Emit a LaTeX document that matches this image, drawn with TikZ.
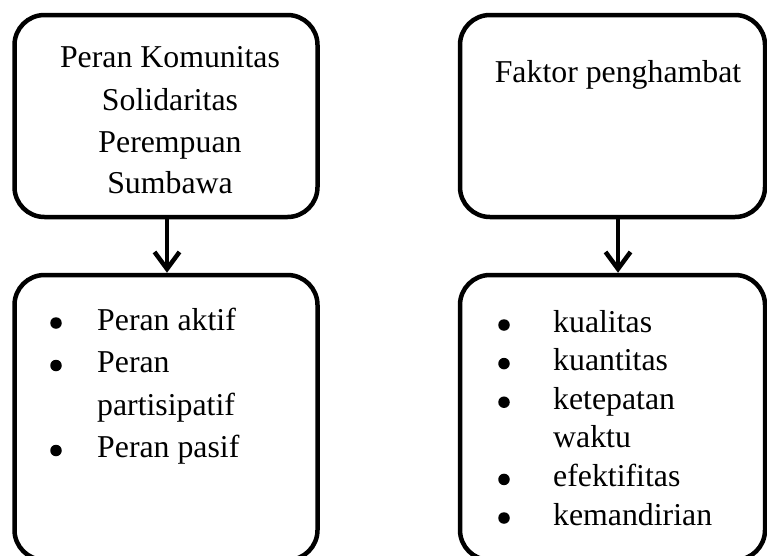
\documentclass[tikz,border=0pt]{standalone}
\usepackage{fontspec}
\setmainfont{Liberation Serif}
\usetikzlibrary{arrows.meta}
\begin{document}
\begin{tikzpicture}[x=1pt,y=-1pt,
  box/.style={draw, line width=4.5pt, rounded corners=30pt, inner sep=0pt},
  txt/.style={inner sep=0pt, anchor=base, font=\fontsize{31.8}{42}\selectfont},
  ltxt/.style={txt, anchor=base west},
  dot/.style={circle, fill, inner sep=0pt, minimum size=11.5pt},
  conn/.style={line width=4.5pt, -{Straight Barb[length=17pt,width=25pt,line width=4.5pt]}}]
\useasboundingbox (0,0) rectangle (767,555);
\clip (0,0) rectangle (767,555);
% boxes
\node[box, minimum width=303pt, minimum height=202pt] (ltop) at (166,116) {};
\node[box, minimum width=303pt, minimum height=285pt] (lbot) at (166,417.5) {};
\node[box, minimum width=305pt, minimum height=202pt] (rtop) at (612.5,116) {};
\node[box, minimum width=305pt, minimum height=285pt] (rbot) at (612.5,417.5) {};
% connectors
\draw[conn] ([xshift=1pt]ltop.south) -- ([xshift=1pt]lbot.north);
\draw[conn] ([xshift=5.5pt]rtop.south) -- ([xshift=5.5pt]rbot.north);
% left top text
\node[txt] (lt1) at (170,67) {Peran Komunitas};
\node[txt] (lt2) at (170,110) {Solidaritas};
\node[txt] (lt3) at (170,152) {Perempuan};
\node[txt] (lt4) at (170,193) {Sumbawa};
% right top text
\node[txt] (rt1) at (618,82) {Faktor penghambat};
% left list
\node[dot] (lb1) at (56,323) {};
\node[dot] (lb2) at (56,365.5) {};
\node[dot] (lb3) at (56,450.5) {};
\node[ltxt] (ll1) at (97,330) {Peran aktif};
\node[ltxt] (ll2) at (97,372.5) {Peran};
\node[ltxt] (ll3) at (97,415) {partisipatif};
\node[ltxt] (ll4) at (97,457.5) {Peran pasif};
% right list
\node[dot] (rb1) at (504,325) {};
\node[dot] (rb2) at (504,363.6) {};
\node[dot] (rb3) at (504,402.2) {};
\node[dot] (rb4) at (504,479.4) {};
\node[dot] (rb5) at (504,518) {};
\node[ltxt] (rl1) at (553,332) {kualitas};
\node[ltxt] (rl2) at (553,370.6) {kuantitas};
\node[ltxt] (rl3) at (553,409.2) {ketepatan};
\node[ltxt] (rl4) at (553,447.8) {waktu};
\node[ltxt] (rl5) at (553,486.4) {efektifitas};
\node[ltxt] (rl6) at (553,525) {kemandirian};
\end{tikzpicture}
\end{document}
